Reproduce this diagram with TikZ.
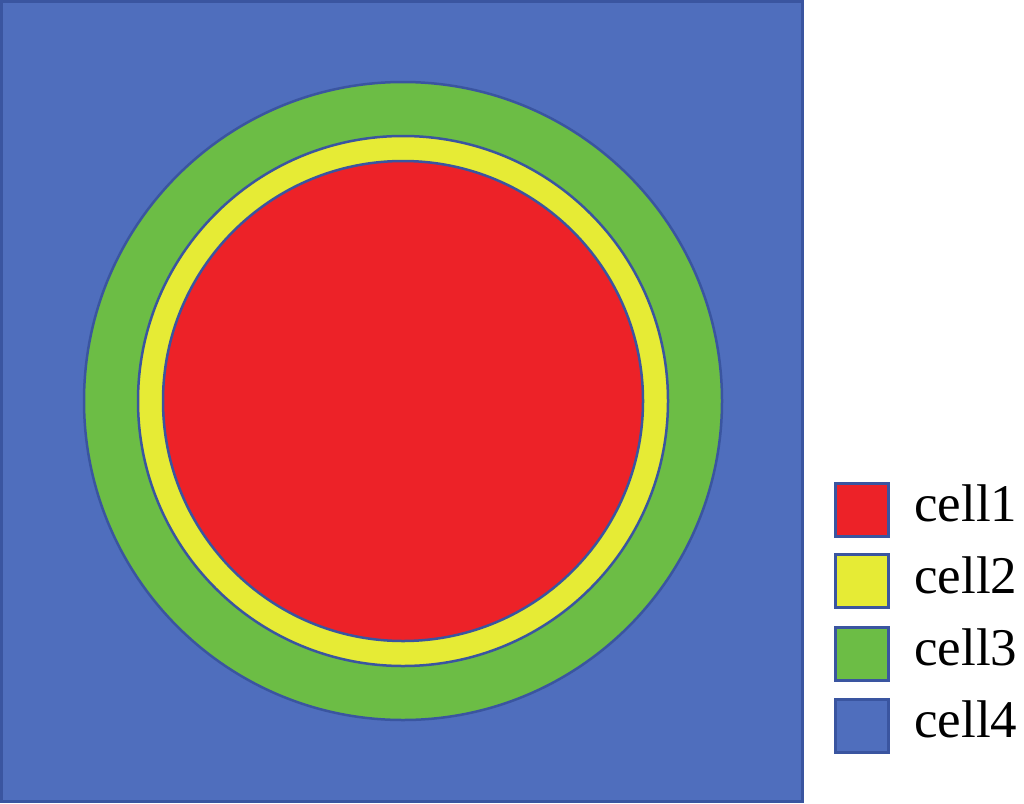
\documentclass[tikz,border=0pt]{standalone}
\usepackage{fontspec}
\setmainfont{Liberation Serif}
\definecolor{cfour}{HTML}{4F6EBD}
\definecolor{cthree}{HTML}{6CBD45}
\definecolor{ctwo}{HTML}{E6EB35}
\definecolor{cone}{HTML}{ED2228}
\definecolor{edge}{HTML}{3A55A0}
\begin{document}
\begin{tikzpicture}[x=1pt,y=-1pt,
  ring/.style={draw=edge,line width=2.5pt},
  key/.style={draw=edge,line width=3pt,minimum width=53pt,minimum height=53pt,inner sep=0pt},
  lab/.style={anchor=base west,inner sep=0pt,font=\fontsize{53}{53}\selectfont}]
\useasboundingbox (0,0) rectangle (1024,803);
\draw[draw=edge,line width=3pt,fill=cfour] (1.5,1.5) rectangle (802,801.5);
\filldraw[ring,fill=cthree] (403,401) circle (319);
\filldraw[ring,fill=ctwo] (403,401) circle (265);
\filldraw[ring,fill=cone] (403,401) circle (240);
\node[key,fill=cone] (k1) at (862,510) {};
\node[key,fill=ctwo] (k2) at (862,581) {};
\node[key,fill=cthree] (k3) at (862,654) {};
\node[key,fill=cfour] (k4) at (862,725.5) {};
\node[lab] (l1) at (914,521) {cell1};
\node[lab] (l2) at (914,593) {cell2};
\node[lab] (l3) at (914,665) {cell3};
\node[lab] (l4) at (914,737) {cell4};
\end{tikzpicture}
\end{document}
